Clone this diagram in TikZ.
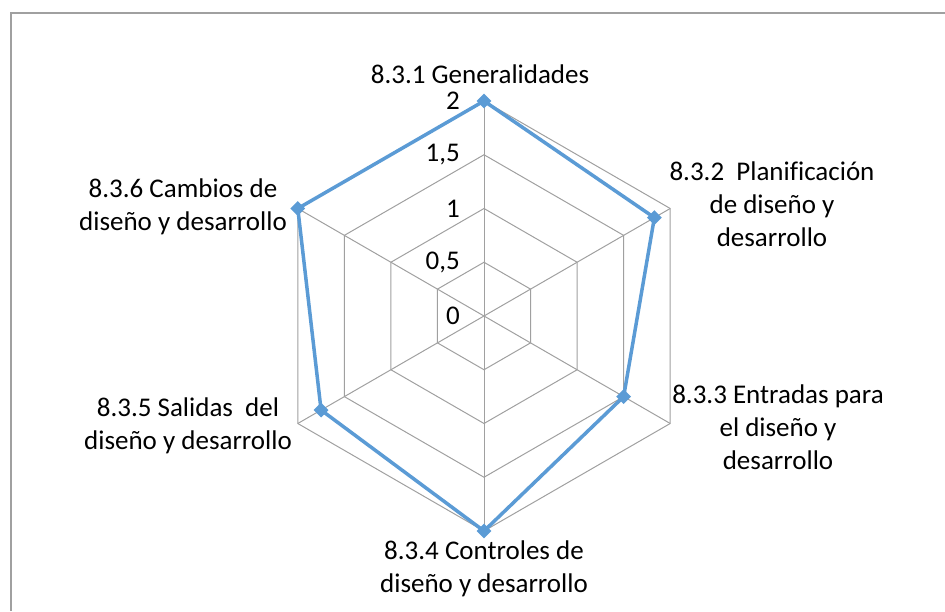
\documentclass[tikz,border=0pt]{standalone}
\usepackage{fontspec}
\setmainfont{Carlito}[Ligatures=NoCommon]
\usetikzlibrary{shapes,positioning}
\definecolor{chartblue}{HTML}{5B9BD5}
\definecolor{gridgray}{HTML}{A0A0A0}

\begin{document}
\begin{tikzpicture}[x=1pt,y=1pt]
    \tikzstyle{grid} = [draw=gridgray, line width=1pt]
    \tikzstyle{frame} = [draw=gridgray, line width=1.2pt]
    \tikzstyle{series} = [draw=chartblue, line width=3.5pt, line join=round]
    \tikzstyle{marker} = [diamond, fill=chartblue, inner sep=0pt, minimum size=15pt]
    \tikzstyle{ticklabel} = [anchor=east, inner sep=0pt,
               font=\fontsize{27}{33}\selectfont]
    \tikzstyle{axislabel} = [align=center, inner sep=0pt,
               font=\fontsize{27}{33}\selectfont]

    \useasboundingbox (0,0) rectangle (945,611);

    % chart frame
    \draw [frame] (11,0) -- (11,598) -- (945,598);

    \begin{scope}[shift={(484,295)}]
      % rings and spokes
      \foreach \r in {1,...,4}
        \draw [grid] (90:\r*53.75) -- (30:\r*53.75) -- (-30:\r*53.75)
          -- (-90:\r*53.75) -- (-150:\r*53.75) -- (150:\r*53.75) -- cycle;
      \foreach \a in {90,30,-30,-90,-150,150}
        \draw [grid] (0,0) -- (\a:215);

      % axis values
      \foreach \v/\t [count=\i] in {0/0, 0.5/{0,5}, 1/1, 1.5/{1,5}, 2/2}
        \node [ticklabel] (tick\i) at (-24,\v*107.5) {\t};

      % data points
      \foreach \a/\v [count=\i] in {90/2, 30/1.83, -30/1.5, -90/2, -150/1.75, 150/2}
        \node [marker] (p\i) at (\a:\v*107.5) {};

      \draw [series] (p1.center) -- (p2.center) -- (p3.center) -- (p4.center)
        -- (p5.center) -- (p6.center) -- cycle;
    \end{scope}

    % category labels
    \node [axislabel] (g1) at (480,537) {8.3.1 Generalidades};
    \node [axislabel] (g2) at (772,407) {8.3.2\ \ Planificación\\de diseño y\\desarrollo};
    \node [axislabel] (g3) at (778,184) {8.3.3 Entradas para\\el diseño y\\desarrollo};
    \node [axislabel] (g4) at (484,42) {8.3.4 Controles de\\diseño y desarrollo};
    \node [axislabel] (g5) at (188,185) {8.3.5 Salidas\ \ del\\diseño y desarrollo};
    \node [axislabel] (g6) at (183,404) {8.3.6 Cambios de\\diseño y desarrollo};

\end{tikzpicture}
\end{document}
